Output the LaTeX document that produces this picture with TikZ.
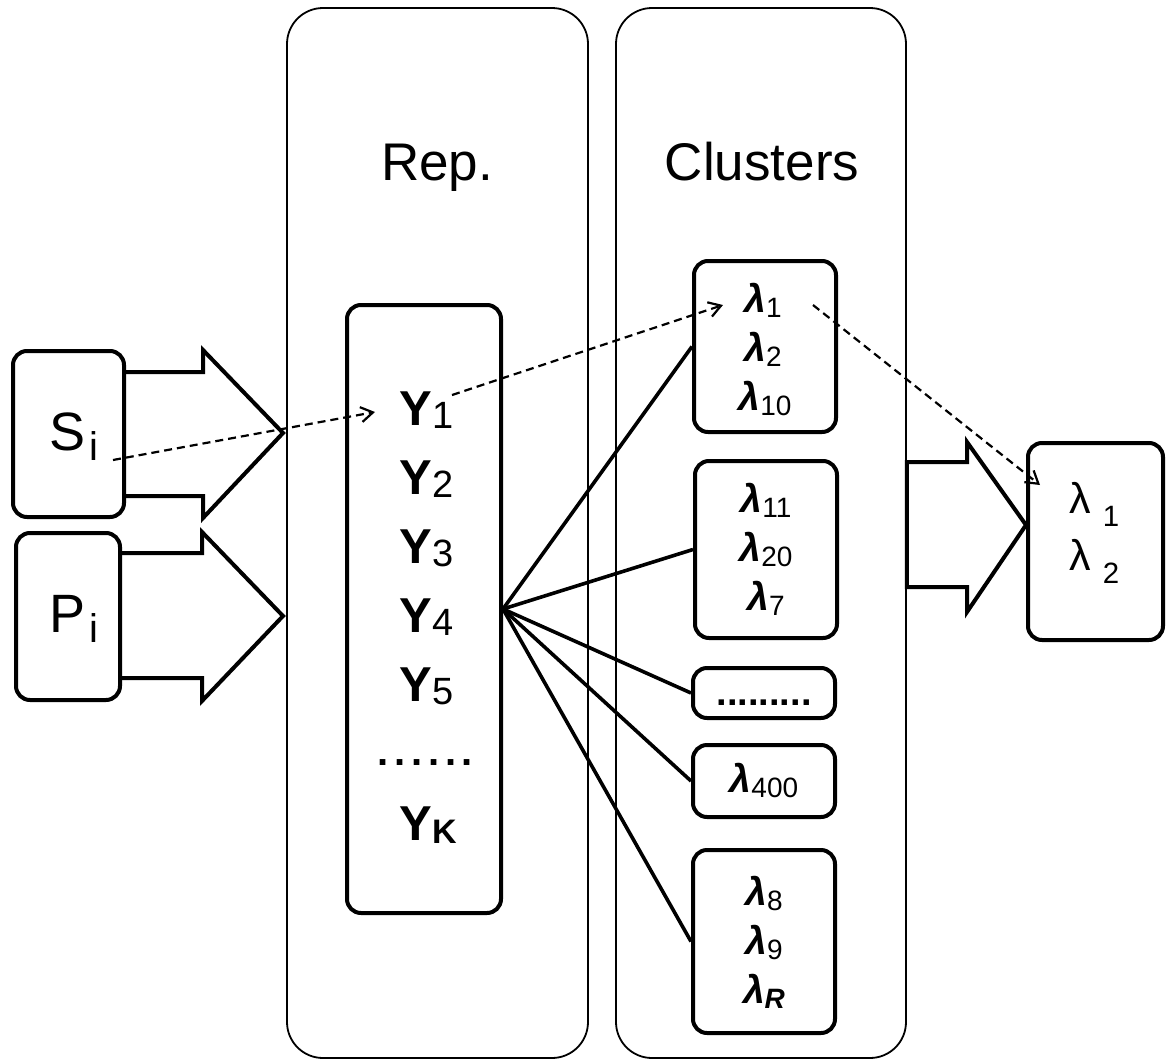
\documentclass[tikz,border=0pt]{standalone}
\usepackage{fontspec}
\setmainfont{Liberation Sans}
\usetikzlibrary{arrows.meta,fit}
\newcommand\ups[1]{{\bfseries\fontsize{24.5}{24.5}\selectfont Υ}\hspace{0.3pt}\raisebox{-1.5pt}{\fontsize{19}{19}\selectfont #1}}
\newcommand\lam[1]{{\bfseries\itshape\fontsize{19.5}{19.5}\selectfont λ}\raisebox{-2.5pt}{\fontsize{14}{14}\selectfont #1}}
\newcommand\biglam[1]{{\fontsize{21.5}{21.5}\selectfont λ}\hspace{6pt}\raisebox{-6.5pt}{\fontsize{14.7}{14.7}\selectfont #1}}
\begin{document}
\begin{tikzpicture}[x=0.5pt,y=-0.5pt,
  panel/.style={draw, line width=0.9pt, rounded corners=18pt, inner sep=0pt},
  box/.style={draw, line width=2pt, rounded corners=7pt, inner sep=0pt},
  blockarrow/.style={draw, line width=2pt, line join=miter},
  link/.style={line width=1.8pt},
  dasharrow/.style={line width=1.1pt, dash pattern=on 4pt off 2.5pt, -{Straight Barb[length=6pt,width=7.5pt]}},
  lbl/.style={inner sep=0pt, anchor=base},
  lblw/.style={inner sep=0pt, anchor=base west}]
\useasboundingbox (0,0) rectangle (1169,1061);

% panels
\node[panel, fit={(287,8) (588,1058)}] (rep) {};
\node[panel, fit={(616,8) (906,1058)}] (clu) {};
\node[lbl, font=\fontsize{26.5}{26.5}\selectfont] (reptitle) at (437,180) {Rep.};
\node[lbl, font=\fontsize{26.5}{26.5}\selectfont] (clutitle) at (762,180) {Clusters};

% input boxes
\node[box, fit={(13,351) (124,517)}] (S) {};
\node[box, fit={(16,533) (120,700)}] (P) {};
\node[lblw] (Slbl) at (49,450) {\fontsize{27}{27}\selectfont S\hspace{2pt}\raisebox{-5pt}{\fontsize{20}{20}\selectfont i}};
\node[lblw] (Plbl) at (49,632) {\fontsize{27}{27}\selectfont P\hspace{2pt}\raisebox{-5pt}{\fontsize{20}{20}\selectfont i}};

% block arrows
\draw[blockarrow] (S.east |- 0,372) -- (203,372) -- (203,350) -- (283,433) -- (203,518) -- (203,496) -- (S.east |- 0,496);
\draw[blockarrow] (P.east |- 0,553) -- (202,553) -- (202,532) -- (283,616) -- (202,701) -- (202,678) -- (P.east |- 0,678);

% representation box
\node[box, fit={(347,305) (501,913)}] (Y) {};
\node[lblw] (y1) at (399,425) {\ups{1}};
\node[lblw] (y2) at (399,494) {\ups{2}};
\node[lblw] (y3) at (399,563) {\ups{3}};
\node[lblw] (y4) at (399,632) {\ups{4}};
\node[lblw] (y5) at (399,701) {\ups{5}};
\node[lblw] (ydots) at (377,765) {\bfseries\fontsize{20}{20}\selectfont .\hspace{2.9pt}.\hspace{2.9pt}.\hspace{2.9pt}.\hspace{2.9pt}.\hspace{2.9pt}.};
\node[lblw] (yk) at (399,840) {{\bfseries\fontsize{24.5}{24.5}\selectfont Υ}\raisebox{-1.5pt}{\bfseries\fontsize{17}{17}\selectfont K}};

% clusters
\node[box, fit={(694,261) (836,432)}] (c1) {};
\node[box, fit={(695,461) (837,638)}] (c2) {};
\node[box, fit={(693,668) (835,718)}] (c3) {};
\node[box, fit={(693,745) (835,817)}] (c4) {};
\node[box, fit={(693,850) (835,1033)}] (c5) {};

\node[lbl] (l1) at (763,312) {\lam{1}};
\node[lbl] (l2) at (763,361) {\lam{2}};
\node[lbl] (l10) at (765,410) {\lam{10}};
\node[lbl] (l11) at (766,512) {\lam{11}};
\node[lbl] (l20) at (766,561) {\lam{20}};
\node[lbl] (l7) at (766,610) {\lam{7}};
\node[lbl] (cdots) at (764,705) {\bfseries\fontsize{19}{19}\selectfont .........};
\node[lbl] (l400) at (764,792) {\lam{400}};
\node[lbl] (l8) at (764,905) {\lam{8}};
\node[lbl] (l9) at (764,954) {\lam{9}};
\node[lbl] (lR) at (764,1003) {\lam{\textbf{\textit{R}}}};

% output
\node[box, fit={(1028,443) (1163,640)}] (out) {};
\draw[blockarrow] (clu.east |- 0,462) -- (967,462) -- (967,442) -- (out.west |- 0,525) -- (967,612) -- (967,587) -- (clu.east |- 0,587) -- cycle;
\node[lblw] (o1) at (1069,513) {\biglam{1}};
\node[lblw] (o2) at (1069,570) {\biglam{2}};

% links
\draw[link] (Y.east) -- (c1.west);
\draw[link] (Y.east) -- (c2.west);
\draw[link] (Y.east) -- (c3.west);
\draw[link] (Y.east) -- (c4.west);
\draw[link] (Y.east) -- (c5.west);

% dashed path
\coordinate (dS) at (113,460);
\coordinate (dY) at (375,412);
\coordinate (dYo) at (452,395);
\coordinate (dL) at (723,305);
\coordinate (dLo) at (813,305);
\coordinate (dO) at (1040,485);
\draw[dasharrow] (dS) -- (dY);
\draw[dasharrow] (dYo) -- (dL);
\draw[dasharrow] (dLo) -- (dO);
\end{tikzpicture}
\end{document}
